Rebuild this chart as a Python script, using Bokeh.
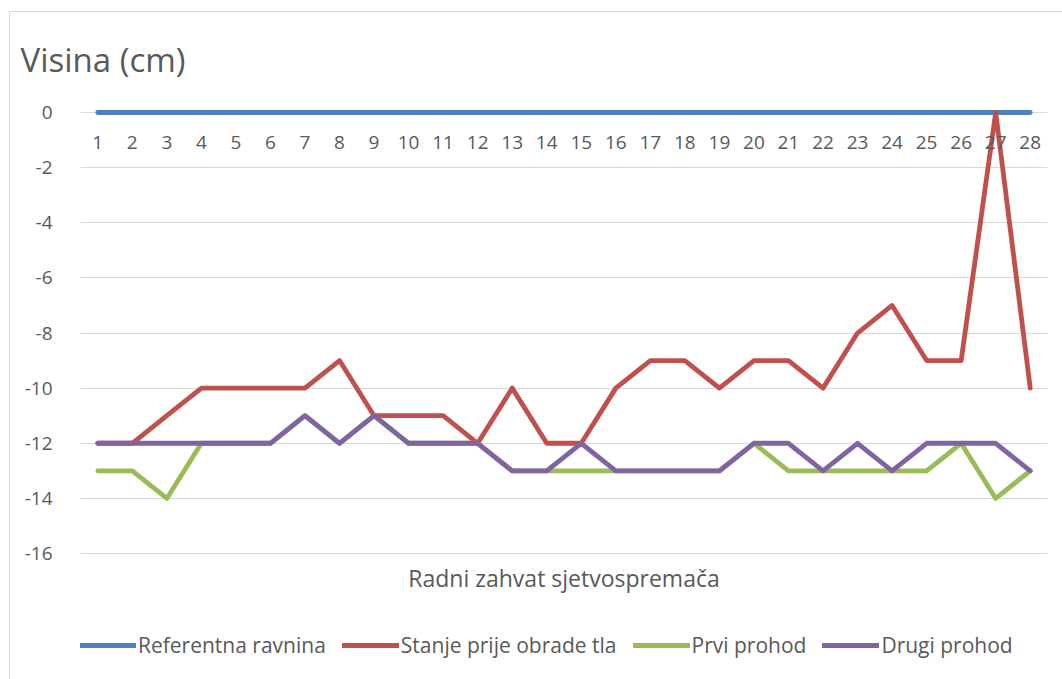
from bokeh.plotting import figure
from bokeh.models import FactorRange, Range1d, Legend, LegendItem, Title, FixedTicker, Label
from bokeh.embed import file_html
from bokeh.resources import INLINE

categories = [str(i) for i in range(1, 29)]
referentna = [0, 0, 0, 0, 0, 0, 0, 0, 0, 0, 0, 0, 0, 0,
              0, 0, 0, 0, 0, 0, 0, 0, 0, 0, 0, 0, 0, 0]
stanje = [-12, -12, -11, -10, -10, -10, -10, -9, -11, -11, -11, -12, -10, -12,
          -12, -10, -9, -9, -10, -9, -9, -10, -8, -7, -9, -9, 0, -10]
prvi = [-13, -13, -14, -12, -12, -12, -11, -12, -11, -12, -12, -12, -13, -13,
        -13, -13, -13, -13, -13, -12, -13, -13, -13, -13, -13, -12, -14, -13]
drugi = [-12, -12, -12, -12, -12, -12, -11, -12, -11, -12, -12, -12, -13, -13,
         -12, -13, -13, -13, -13, -12, -12, -13, -12, -13, -12, -12, -12, -13]
series_names = ["Referentna ravnina", "Stanje prije obrade tla", "Prvi prohod", "Drugi prohod"]
series_colors = ["#4f81bd", "#c0504d", "#9bbb59", "#8064a2"]
y_ticks = [0, -2, -4, -6, -8, -10, -12, -14, -16]
y_tick_labels = ["0", "-2", "-4", "-6", "-8", "-10", "-12", "-14", "-16"]
chart_title = "Visina (cm)"
x_title = "Radni zahvat sjetvospremača"

FONT = "Open Sans"
TXT = "#595959"

# frame extends to the bottom of the chart so the axis title and legend sit inside it
p = figure(x_range=FactorRange(*categories), y_range=Range1d(-20.57, 0.29),
           frame_width=967, frame_height=575, output_backend="svg", toolbar_location=None,
           min_border_left=70, min_border_right=15, min_border_top=92, min_border_bottom=0)
p.styles = {"border-top": "1px solid #d9d9d9", "border-left": "1px solid #d9d9d9",
            "margin-left": "9px", "margin-top": "11px"}
p.outline_line_color = None
p.background_fill_color = "white"

p.xgrid.visible = False
p.ygrid.ticker = FixedTicker(ticks=y_ticks)
p.ygrid.grid_line_color = "#d9d9d9"
p.ygrid.grid_line_width = 1

p.yaxis.ticker = FixedTicker(ticks=y_ticks)
p.yaxis.major_label_overrides = dict(zip(y_ticks, y_tick_labels))
p.yaxis.axis_line_color = None
p.yaxis.major_tick_line_color = None
p.yaxis.minor_tick_line_color = None
p.yaxis.major_label_text_font = FONT
p.yaxis.major_label_text_font_size = "19px"
p.yaxis.major_label_text_color = TXT
p.yaxis.major_label_standoff = 22

p.xaxis.fixed_location = 0
p.xaxis.axis_line_color = None
p.xaxis.major_tick_line_color = None
p.xaxis.major_label_text_font = FONT
p.xaxis.major_label_text_font_size = "19px"
p.xaxis.major_label_text_color = TXT
p.xaxis.major_label_standoff = 18

renderers = []
for vals, col in zip([referentna, stanje, prvi, drugi], series_colors):
    r = p.line(categories, vals, line_color=col, line_width=4.8,
               line_join="round", line_cap="round")
    renderers.append(r)

p.add_layout(Title(text=chart_title, align="left", text_font=FONT, text_font_size="33px",
                   text_font_style="normal", text_color=TXT, offset=-60, standoff=45), "above")

p.add_layout(Label(x=483.5, y=102, x_units="screen", y_units="screen", text=x_title,
                   text_align="center", text_baseline="middle", text_font=FONT,
                   text_font_size="23px", text_color=TXT))

legend = Legend(items=[LegendItem(label=n, renderers=[r]) for n, r in zip(series_names, renderers)],
                orientation="horizontal", location=(-1, 20), border_line_color=None,
                background_fill_alpha=0, glyph_width=57, glyph_height=24, label_standoff=2,
                spacing=16, label_text_font=FONT, label_text_font_size="21px",
                label_text_color=TXT, padding=0, margin=0)
p.add_layout(legend, "center")

open("out.html", "w").write(file_html(p, INLINE))
